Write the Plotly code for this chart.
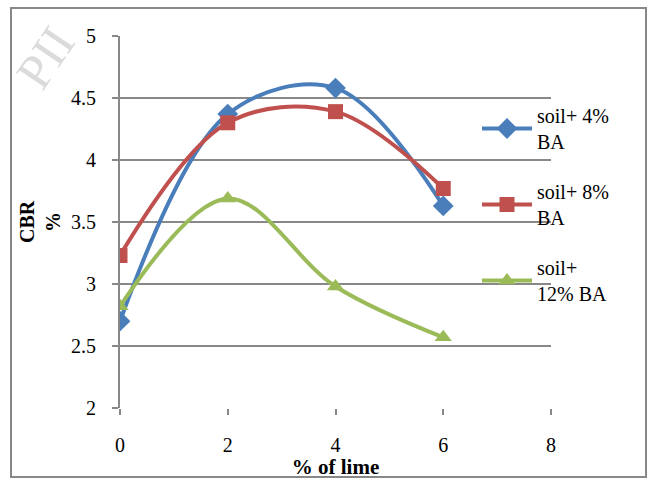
import plotly.graph_objects as go

lime = [0, 2, 4, 6]
ba4 = [2.70, 4.37, 4.58, 3.63]
ba8 = [3.23, 4.30, 4.39, 3.77]
ba12 = [2.82, 3.69, 2.98, 2.57]
names = ["soil+ 4%<br>BA", "soil+ 8%<br>BA", "soil+<br>12% BA"]
colors = ["#4A7EBB", "#C0504D", "#9BBB59"]
symbols = ["diamond", "square", "triangle-up"]
series = [ba4, ba8, ba12]
yticks = [2, 2.5, 3, 3.5, 4, 4.5, 5]
yticklabels = ["2", "2.5", "3", "3.5", "4", "4.5", "5"]

FONT = "Liberation Serif"

fig = go.Figure()
for i, (ys, nm, c, s) in enumerate(zip(series, names, colors, symbols)):
    fig.add_trace(go.Scatter(
        x=lime, y=ys, name=nm, mode="lines+markers",
        line=dict(color=c, width=4, shape="spline", smoothing=1.0),
        marker=dict(symbol=s, size=15 if s != "diamond" else 16, color=c),
        legendgroup=str(i),
    ))

L, R, T, B = 120, 101, 36, 71
W, H = 652, 479
pw, ph = W - L - R, H - T - B

def px_x(p):
    return (p - L) / pw

def px_y(p):
    return (H - B - p) / ph

fig.update_layout(
    width=W, height=H,
    margin=dict(l=L, r=R, t=T, b=B),
    paper_bgcolor="white", plot_bgcolor="white",
    font=dict(family=FONT, size=20, color="black"),
    showlegend=True,
    legend=dict(
        x=px_x(477), y=px_y(96), xanchor="left", yanchor="top",
        bgcolor="rgba(0,0,0,0)", tracegroupgap=21, itemwidth=50,
        font=dict(family=FONT, size=20),
    ),
    xaxis=dict(
        range=[0, 8], tickvals=[0, 2, 4, 6, 8], showgrid=False,
        showline=False, zeroline=False, automargin=False,
        ticks="outside", ticklen=6, tickcolor="#888888", tickwidth=2,
        ticklabelstandoff=13,
        title=dict(text="<b>% of lime</b>", standoff=0, font=dict(size=21)),
    ),
    yaxis=dict(
        range=[2, 5], tickvals=yticks, showticklabels=False, automargin=False,
        showgrid=True, gridcolor="#888888", gridwidth=2,
        showline=True, linecolor="#888888", linewidth=2, zeroline=False,
        ticks="outside", ticklen=6, tickcolor="#888888", tickwidth=2,
    ),
)

# y tick labels, placed on the y scale
for v, t in zip(yticks, yticklabels):
    fig.add_annotation(xref="paper", yref="y", x=px_x(98), y=v, text=t,
                       showarrow=False, xanchor="right", yanchor="middle",
                       font=dict(family=FONT, size=20, color="black"))

# y axis title
fig.add_annotation(xref="paper", yref="paper", x=px_x(40), y=0.5,
                   text="<b>CBR<br>%</b>", showarrow=False, textangle=-90,
                   xanchor="center", yanchor="middle",
                   font=dict(family=FONT, size=20, color="black"))

# outer chart border
fig.add_shape(type="rect", xref="paper", yref="paper",
              x0=px_x(11), x1=px_x(646), y0=px_y(477), y1=px_y(8),
              line=dict(color="#888888", width=2), fillcolor="rgba(0,0,0,0)",
              layer="below")

# faint watermark
fig.add_annotation(xref="paper", yref="paper", x=px_x(45), y=px_y(58),
                   text="PII", showarrow=False, textangle=-56,
                   xanchor="center", yanchor="middle",
                   font=dict(family=FONT, size=50, color="rgba(195,195,195,0.6)"))

fig.write_html("out.html")
